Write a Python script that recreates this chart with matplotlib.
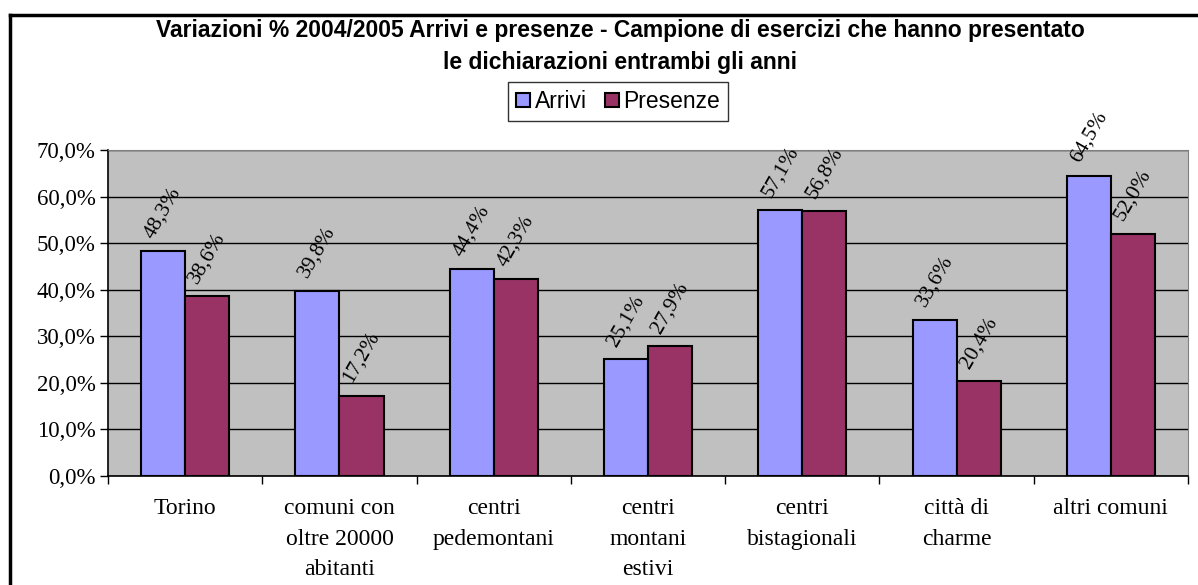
import matplotlib.pyplot as plt
from matplotlib.lines import Line2D
import numpy as np

# Dati
categorie = ["Torino", "comuni con\noltre 20000\nabitanti", "centri\npedemontani",
             "centri\nmontani\nestivi", "centri\nbistagionali", "città di\ncharme",
             "altri comuni"]
arrivi = [48.3, 39.8, 44.4, 25.1, 57.1, 33.6, 64.5]
presenze = [38.6, 17.2, 42.3, 27.9, 56.8, 20.4, 52.0]
yticks = [0, 10, 20, 30, 40, 50, 60, 70]

serif = ["Liberation Serif", "DejaVu Serif"]
sans = ["Liberation Sans", "DejaVu Sans"]

fig = plt.figure(figsize=(11.98, 5.85), dpi=100)
ax = fig.add_axes([0.0902, 0.1863, 0.9015, 0.5573])
ax.set_facecolor("#C0C0C0")

x = np.arange(len(categorie))
w = 0.286
b1 = ax.bar(x - w / 2, arrivi, w, color="#9999FF", edgecolor="black", linewidth=1.5,
            label="Arrivi", zorder=3)
b2 = ax.bar(x + w / 2, presenze, w, color="#993366", edgecolor="black", linewidth=1.5,
            label="Presenze", zorder=3)

for xs, vals in [(x - w / 2, arrivi), (x + w / 2, presenze)]:
    for xi, v in zip(xs, vals):
        ax.annotate(f"{v:.1f}%".replace(".", ","), (xi, v), xytext=(0, 7),
                    textcoords="offset points", ha="center", va="bottom", rotation=60,
                    fontsize=15.5, family=serif, zorder=4)

ax.set_xlim(-0.5, len(categorie) - 0.5)
ax.set_ylim(0, 70)
ax.set_yticks(yticks)
ax.set_yticklabels([f"{t:.1f}%".replace(".", ",") for t in yticks], family=serif, fontsize=16.5)
ax.yaxis.grid(True, color="black", linewidth=1, zorder=0)
ax.set_axisbelow(True)
ax.tick_params(axis="y", direction="out", length=6, width=1, pad=3)

ax.set_xticks(x)
ax.set_xticklabels(categorie, family=serif, fontsize=17, linespacing=1.6)
ax.tick_params(axis="x", which="major", length=0, pad=16)
ax.set_xticks(np.arange(len(categorie) + 1) - 0.5, minor=True)
ax.tick_params(axis="x", which="minor", direction="out", length=6, width=1)

for s in ["top", "right"]:
    ax.spines[s].set_color("#808080")
for s in ["left", "bottom"]:
    ax.spines[s].set_color("black")
    ax.spines[s].set_linewidth(1.2)

# titolo
fig.text(0.5175, 1 - 30 / 585, "Variazioni % 2004/2005 Arrivi e presenze - Campione di esercizi che hanno presentato",
         ha="center", va="center", fontsize=16.5, fontweight="bold", family=sans)
fig.text(0.5175, 1 - 62 / 585, "le dichiarazioni entrambi gli anni",
         ha="center", va="center", fontsize=16.5, fontweight="bold", family=sans)

# legenda
leg = fig.legend(handles=[b1, b2], labels=["Arrivi", "Presenze"], loc="center",
                 bbox_to_anchor=(0.516, 1 - 101.5 / 585), ncol=2, frameon=True,
                 fancybox=False, edgecolor="black", handlelength=0.6, handleheight=0.6,
                 handletextpad=0.2, columnspacing=0.8, borderpad=0.35,
                 prop={"family": sans, "size": 16.5})
leg.get_frame().set_linewidth(1)

# cornice esterna
fig.add_artist(Line2D([10 / 1198, 10 / 1198], [0, 1 - 15 / 585], color="black",
                      linewidth=2.5, transform=fig.transFigure))
fig.add_artist(Line2D([10 / 1198, 1], [1 - 15 / 585, 1 - 15 / 585], color="black",
                      linewidth=2.5, transform=fig.transFigure))

fig.savefig("out.png", dpi=100)
